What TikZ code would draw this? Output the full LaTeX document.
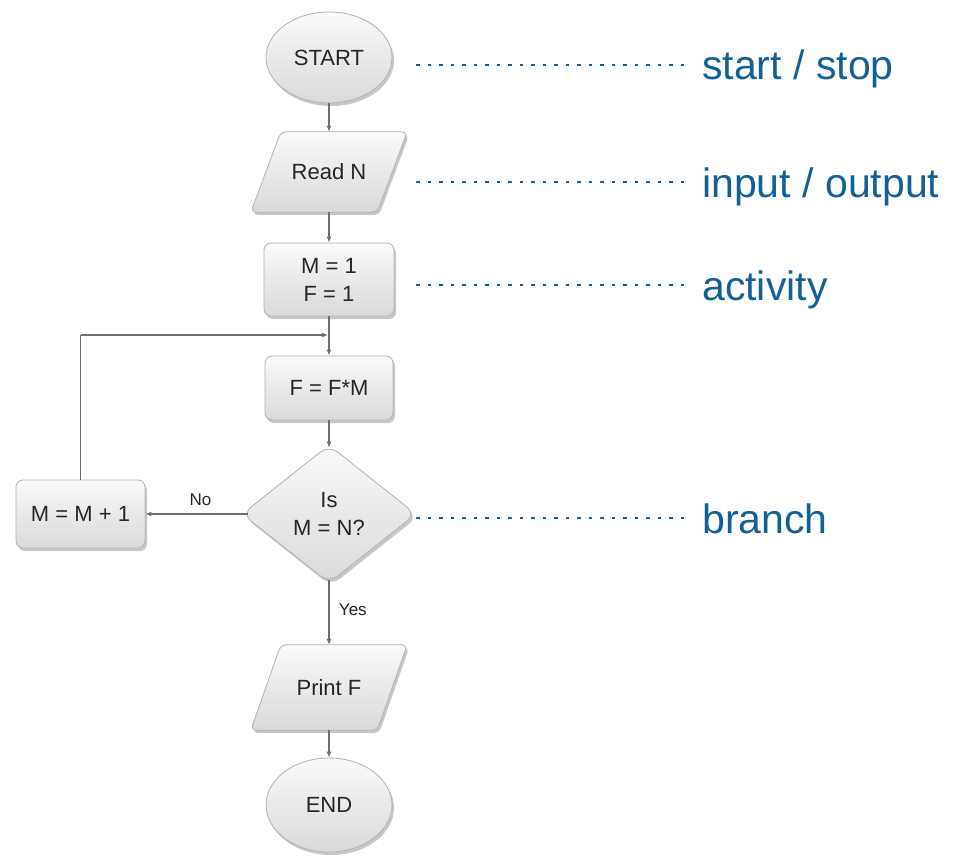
\documentclass[tikz,border=0pt]{standalone}
\usepackage{fontspec}
\setmainfont{Liberation Sans}
\newfontfamily\boxfont{Liberation Sans}
\usetikzlibrary{shapes.geometric,arrows.meta,shadows}
\definecolor{lblblue}{RGB}{18,96,150}
\definecolor{conngray}{RGB}{110,110,110}
\pgfdeclarelayer{bg}
\pgfsetlayers{bg,main}
\begin{document}
\begin{tikzpicture}[x=1pt,y=-1pt,
  shpfill/.style={draw=black!30, line width=0.8pt, top color=black!2, bottom color=black!15,
    drop shadow={shadow xshift=2pt, shadow yshift=-3pt, opacity=0.22, fill=black}},
  shptext/.style={font=\boxfont\fontsize{22}{28}\selectfont, text=black!85, align=center},
  shp/.style={shpfill, shptext},
  term/.style={shp, ellipse, inner sep=0pt},
  io/.style={shptext, rectangle, inner sep=0pt, minimum width=126pt, minimum height=80pt},
  act/.style={shp, rectangle, rounded corners=7pt, inner sep=0pt},
  branchbox/.style={shp, diamond, rounded corners=11pt, inner sep=0pt,
    minimum width=174pt, minimum height=138pt},
  conn/.style={draw=conngray, line width=1.3pt, -{Latex[length=6pt,width=5pt]}},
  plainconn/.style={draw=conngray, line width=1.3pt},
  edgelbl/.style={font=\boxfont\fontsize{17}{20}\selectfont, text=black!85},
  lbl/.style={font=\fontsize{41}{48}\selectfont, text=lblblue, anchor=base west, inner sep=0pt},
  dotline/.style={draw=lblblue, line width=2pt, dash pattern=on 3.5pt off 8pt}
]
\useasboundingbox (0,0) rectangle (953,859);

% flowchart nodes
\node[term, minimum width=126pt, minimum height=91pt] (start) at (329,57.5) {START};
\node[io] (read) at (329,172) {Read N};
\node[act, minimum width=130pt, minimum height=73pt] (m1) at (329,279.5) {M = 1\\F = 1};
\node[act, minimum width=128pt, minimum height=64pt] (ffm) at (329,388) {F = F*M};
\node[branchbox] (dia) at (329,514) {Is\\M = N?};
\node[act, minimum width=129pt, minimum height=68pt] (inc) at (80.5,514) {M = M + 1};
\node[io, minimum height=85pt] (prt) at (329,687.5) {Print F};
\node[term, minimum width=126pt, minimum height=94pt] (end) at (329,805) {END};

% parallelogram outlines of the input/output nodes
\begin{pgfonlayer}{bg}
\foreach \n in {read,prt}{
  \path[shpfill, rounded corners=5pt]
    ([xshift=15pt]\n.north west) -- ([xshift=15pt]\n.north east)
    -- ([xshift=-15pt]\n.south east) -- ([xshift=-15pt]\n.south west) -- cycle;
}
\end{pgfonlayer}

% connectors
\coordinate (join) at (329,335);
\draw[conn] (start.south) -- (read.north);
\draw[conn] (read.south) -- (m1.north);
\draw[conn] (m1.south) -- (ffm.north);
\draw[plainconn] (inc.north) -- (inc.north |- join);
\draw[conn] (inc.north |- join) -- ([xshift=-1pt]join);
\draw[conn] (ffm.south) -- ([yshift=-3pt]dia.north);
\draw[conn] ([xshift=6pt]dia.west) -- node[edgelbl, above=4pt, pos=0.46] (nolbl) {No} (inc.east);
\draw[conn] ([yshift=3pt]dia.south) -- node[edgelbl, right=6pt, pos=0.45] (yeslbl) {Yes} (prt.north);
\draw[conn] (prt.south) -- (end.north);

% legend labels
\node[lbl] (l1) at (702,80) {start / stop};
\node[lbl] (l2) at (702,197) {input / output};
\node[lbl] (l3) at (702,300) {activity};
\node[lbl] (l4) at (702,533) {branch};
\coordinate (s1) at (416,65);
\coordinate (s2) at (416,182);
\coordinate (s3) at (416,285);
\coordinate (s4) at (416,518);
\draw[dotline] (s1) -- ([xshift=-12pt]s1 -| l1.west);
\draw[dotline] (s2) -- ([xshift=-12pt]s2 -| l2.west);
\draw[dotline] (s3) -- ([xshift=-12pt]s3 -| l3.west);
\draw[dotline] (s4) -- ([xshift=-12pt]s4 -| l4.west);
\end{tikzpicture}
\end{document}
